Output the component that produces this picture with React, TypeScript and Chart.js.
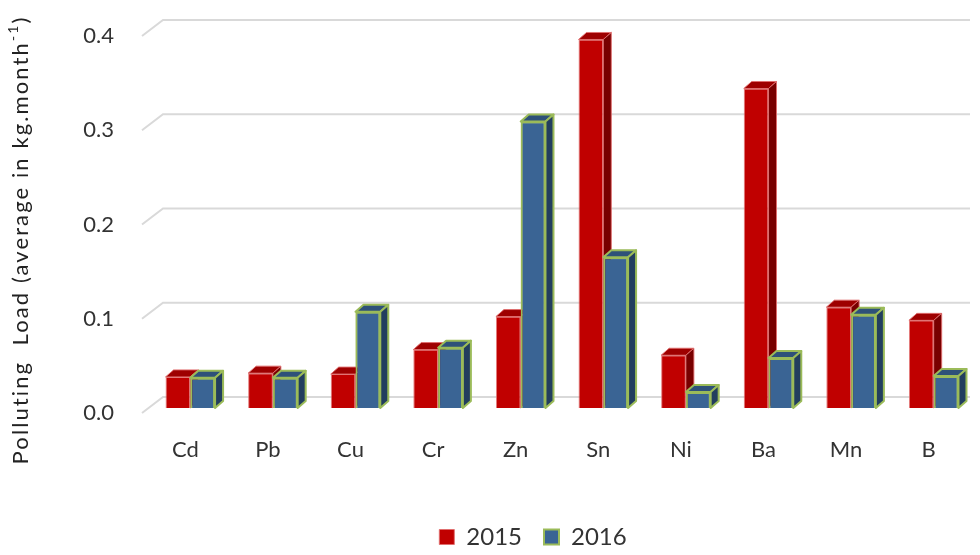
import React, { useEffect, useRef } from "react";
import { Chart, registerables } from "chart.js";

Chart.register(...registerables);

const categories = ["Cd", "Pb", "Cu", "Cr", "Zn", "Sn", "Ni", "Ba", "Mn", "B"];
const values2015 = [0.033, 0.037, 0.036, 0.062, 0.097, 0.391, 0.056, 0.339, 0.107, 0.093];
const values2016 = [0.032, 0.032, 0.102, 0.064, 0.304, 0.160, 0.017, 0.053, 0.099, 0.034];
const seriesLabels = ["2015", "2016"];
const yTicks = [0, 0.1, 0.2, 0.3, 0.4];
const titleMain = "Polluting  Load (average in kg.month";
const titleSup = "-1";
const titleEnd = ")";

const FONT = "Lato";
const TEXT = "#333333";

const RED = { front: "#C00000", top: "#9E0000", side: "#780000", border: "rgba(225,110,110,0.9)", bw: 1 };
const BLUE = { front: "#3A6494", top: "#2E5179", side: "#223E5E", border: "#9BBB59", bw: 2 };

const DX = 8;
const DY = 7;

function drawFaces(ctx: CanvasRenderingContext2D, el: any, c: any) {
  const { x, y, base, width } = el.getProps(["x", "y", "base", "width"], true);
  const l = x - width / 2;
  const r = x + width / 2;
  ctx.save();
  ctx.lineJoin = "round";
  ctx.lineWidth = c.bw;
  ctx.strokeStyle = c.border;
  ctx.beginPath();
  ctx.moveTo(l, y);
  ctx.lineTo(l + DX, y - DY);
  ctx.lineTo(r + DX, y - DY);
  ctx.lineTo(r, y);
  ctx.closePath();
  ctx.fillStyle = c.top;
  ctx.fill();
  ctx.stroke();
  ctx.beginPath();
  ctx.moveTo(r, y);
  ctx.lineTo(r + DX, y - DY);
  ctx.lineTo(r + DX, base - DY);
  ctx.lineTo(r, base);
  ctx.closePath();
  ctx.fillStyle = c.side;
  ctx.fill();
  ctx.stroke();
  ctx.restore();
}

const wallPlugin = {
  id: "wall3d",
  beforeDatasetsDraw(chart: any) {
    const { ctx, chartArea } = chart;
    const ys = chart.scales.y;
    const frontX = chartArea.left - 7;
    const backX = chartArea.left + 14;
    const rightX = chartArea.right - 5;
    ctx.save();
    ctx.strokeStyle = "#D9D9D9";
    ctx.lineWidth = 2;
    for (const v of yTicks) {
      const py = ys.getPixelForValue(v);
      ctx.beginPath();
      ctx.moveTo(frontX, py + 5);
      ctx.lineTo(backX, py - 11);
      ctx.lineTo(rightX, py - 11);
      ctx.stroke();
    }
    ctx.restore();
  },
};

const barsPlugin = {
  id: "bars3d",
  afterDatasetsDraw(chart: any) {
    const ctx = chart.ctx;
    const m0 = chart.getDatasetMeta(0);
    const m1 = chart.getDatasetMeta(1);
    for (let i = 0; i < categories.length; i++) {
      drawFaces(ctx, m0.data[i], RED);
      m1.data[i].draw(ctx);
      drawFaces(ctx, m1.data[i], BLUE);
    }
  },
};

const titlePlugin = {
  id: "yTitle",
  afterDraw(chart: any) {
    const ctx = chart.ctx as any;
    const main = `22px ${FONT}`;
    const small = `14px ${FONT}`;
    ctx.save();
    ctx.letterSpacing = "2.1px";
    ctx.font = main;
    const w1 = ctx.measureText(titleMain).width;
    const w3 = ctx.measureText(titleEnd).width;
    ctx.font = small;
    const w2 = ctx.measureText(titleSup).width;
    const total = w1 + w2 + w3;
    ctx.translate(21, 240);
    ctx.rotate(-Math.PI / 2);
    ctx.fillStyle = "#222222";
    ctx.textBaseline = "middle";
    ctx.textAlign = "left";
    let x = -total / 2;
    ctx.font = main;
    ctx.fillText(titleMain, x, 0);
    x += w1;
    ctx.font = small;
    ctx.fillText(titleSup, x, -8);
    x += w2;
    ctx.font = main;
    ctx.fillText(titleEnd, x, 0);
    ctx.restore();
  },
};

const legendShiftPlugin = {
  id: "legendShift",
  afterLayout(chart: any) {
    const lg = chart.legend;
    if (!lg) return;
    const target = 533;
    const shift = target - (lg.left + lg.right) / 2;
    lg.left += shift;
    lg.right += shift;
    lg.top += 4;
    lg.bottom += 4;
  },
};

export default function App() {
  const ref = useRef<HTMLCanvasElement | null>(null);

  useEffect(() => {
    document.body.style.margin = "0";
    const canvas = ref.current;
    if (!canvas) return;
    const chart = new Chart(canvas, {
      type: "bar",
      data: {
        labels: categories,
        datasets: [
          {
            label: seriesLabels[0],
            data: values2015,
            backgroundColor: RED.front,
            borderColor: RED.border,
            borderWidth: RED.bw,
            categoryPercentage: 0.6,
            barPercentage: 1.0,
          },
          {
            label: seriesLabels[1],
            data: values2016,
            backgroundColor: BLUE.front,
            borderColor: BLUE.border,
            borderWidth: BLUE.bw,
            categoryPercentage: 0.6,
            barPercentage: 1.0,
          },
        ],
      },
      options: {
        responsive: false,
        animation: false,
        layout: { padding: { top: 31, right: 5, left: 0, bottom: 0 } },
        plugins: {
          legend: {
            display: true,
            position: "bottom",
            labels: {
              font: { family: FONT, size: 24 },
              color: TEXT,
              boxWidth: 15,
              boxHeight: 15,
              padding: 22,
              sort: (a: any, b: any) => a.datasetIndex - b.datasetIndex,
            },
          },
          tooltip: { enabled: false },
        },
        scales: {
          x: {
            grid: { display: false },
            border: { display: false },
            ticks: {
              font: { family: FONT, size: 22 },
              color: TEXT,
              padding: 21,
              labelOffset: -5,
              maxRotation: 0,
            },
            afterFit: (s: any) => {
              s.height = 91;
            },
          },
          y: {
            min: 0,
            max: 0.4,
            grid: { display: false },
            border: { display: false },
            afterBuildTicks: (s: any) => {
              s.ticks = yTicks.map((v) => ({ value: v }));
            },
            ticks: {
              font: { family: FONT, size: 22 },
              color: TEXT,
              padding: 27,
              labelOffset: 5,
              callback: (v: any) => Number(v).toFixed(1),
            },
            afterFit: (s: any) => {
              s.width = 149;
              s.paddingTop = 0;
              s.paddingBottom = 0;
            },
          },
        },
      },
      plugins: [wallPlugin, barsPlugin, titlePlugin, legendShiftPlugin],
    });
    return () => chart.destroy();
  }, []);

  return (
    <div style={{ width: 980, height: 555, background: "#ffffff" }}>
      <canvas ref={ref} width={980} height={555} style={{ display: "block" }} />
    </div>
  );
}
